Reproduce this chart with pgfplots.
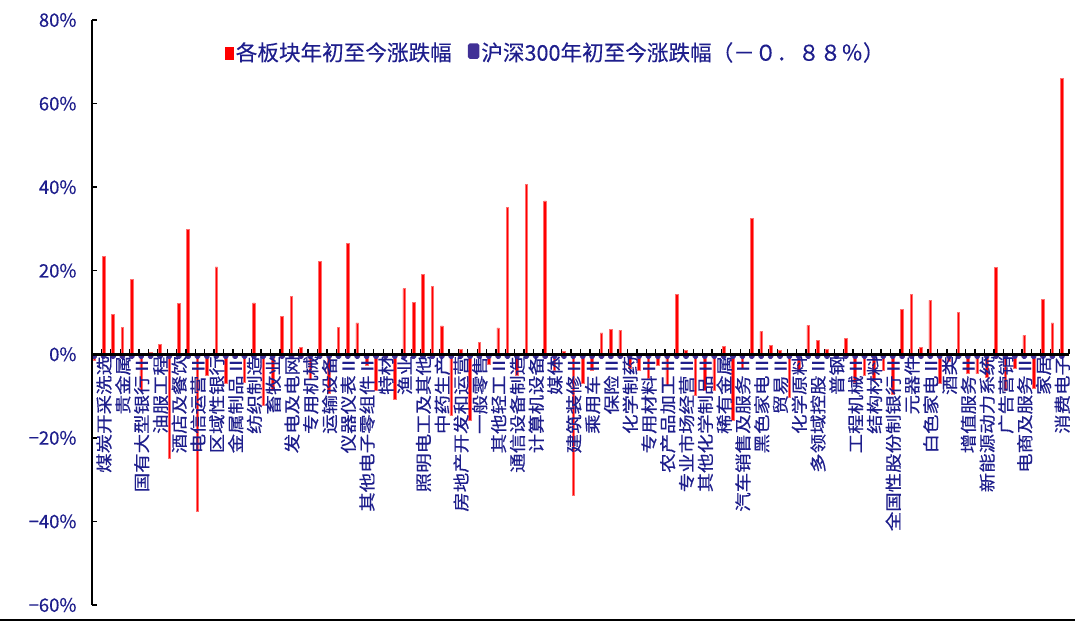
\documentclass[border=0pt]{standalone}
\usepackage{pgfplots}
\pgfplotsset{compat=1.18}
\usepackage{pgfplotstable}
\usepackage{fontspec}
\setmainfont{DejaVu Sans}
\newfontfamily\cjk[FakeBold=0.3]{Noto Sans CJK SC}
\newfontfamily\cjklab[FakeStretch=1.18,FakeBold=0.4]{Noto Sans CJK SC}
\definecolor{navytxt}{RGB}{30,30,140}
\definecolor{hsnavy}{RGB}{64,48,150}
\definecolor{barred}{RGB}{255,0,0}
\definecolor{baredge}{RGB}{255,110,110}

\pgfplotstableread{
idx val hs
0 -1.5 -0.88
1 23.4 -0.88
2 9.5 -0.88
3 6.5 -0.88
4 17.9 -0.88
5 -8.6 -0.88
6 0.4 -0.88
7 2.3 -0.88
8 -25.0 -0.88
9 12.1 -0.88
10 29.9 -0.88
11 -37.5 -0.88
12 -5.0 -0.88
13 20.9 -0.88
14 -7.0 -0.88
15 -0.5 -0.88
16 -6.6 -0.88
17 12.3 -0.88
18 -12.2 -0.88
19 -8.6 -0.88
20 9.1 -0.88
21 13.9 -0.88
22 1.6 -0.88
23 -6.1 -0.88
24 22.3 -0.88
25 -9.4 -0.88
26 6.4 -0.88
27 26.6 -0.88
28 7.5 -0.88
29 -2.6 -0.88
30 -8.6 -0.88
31 -0.5 -0.88
32 -10.8 -0.88
33 15.7 -0.88
34 12.5 -0.88
35 19.1 -0.88
36 16.3 -0.88
37 6.8 -0.88
38 -14.6 -0.88
39 1.2 -0.88
40 -15.8 -0.88
41 2.8 -0.88
42 -2.5 -0.88
43 6.3 -0.88
44 35.1 -0.88
45 -5.0 -0.88
46 40.6 -0.88
47 -0.5 -0.88
48 36.7 -0.88
49 -3.8 -0.88
50 0.6 -0.88
51 -33.7 -0.88
52 -7.0 -0.88
53 -3.8 -0.88
54 5.1 -0.88
55 5.9 -0.88
56 5.7 -0.88
57 -3.4 -0.88
58 -3.8 -0.88
59 -5.8 -0.88
60 -2.6 -0.88
61 -7.4 -0.88
62 14.3 -0.88
63 1.0 -0.88
64 -9.8 -0.88
65 -8.6 -0.88
66 -8.6 -0.88
67 1.9 -0.88
68 -15.8 -0.88
69 -3.4 -0.88
70 32.5 -0.88
71 5.5 -0.88
72 2.2 -0.88
73 1.0 -0.88
74 -10.2 -0.88
75 -3.8 -0.88
76 6.9 -0.88
77 3.3 -0.88
78 1.1 -0.88
79 -0.5 -0.88
80 3.7 -0.88
81 -6.6 -0.88
82 -5.0 -0.88
83 -6.2 -0.88
84 -3.8 -0.88
85 -9.5 -0.88
86 10.7 -0.88
87 14.4 -0.88
88 1.6 -0.88
89 12.9 -0.88
90 -7.0 -0.88
91 -1.8 -0.88
92 10.0 -0.88
93 -4.6 -0.88
94 -4.6 -0.88
95 -5.4 -0.88
96 20.7 -0.88
97 -8.6 -0.88
98 -3.4 -0.88
99 4.5 -0.88
100 -8.2 -0.88
101 13.1 -0.88
102 7.5 -0.88
103 66.0 -0.88
}\sectors

\begin{document}
\begin{tikzpicture}
\useasboundingbox (0,0) rectangle (1075bp,624bp);
\begin{axis}[
  scale only axis, width=977bp, height=585bp,
  at={(92bp,19bp)}, anchor=south west,
  xmin=-0.5, xmax=103.5, ymin=-60, ymax=80,
  axis x line=middle, axis y line=left,
  axis line style={-},
  x axis line style={line width=2.6bp, black},
  y axis line style={line width=2.4bp, black},
  hide obscured x ticks=false, hide obscured y ticks=false,
  axis on top,
  tick align=inside,
  major tick length=5bp,
  tick style={line width=1.3bp, black},
  ytick={-60,-40,-20,0,20,40,60,80},
  yticklabels={−60\%,−40\%,−20\%,0\%,20\%,40\%,60\%,80\%},
  yticklabel style={font=\cjk\fontsize{18.5bp}{20bp}\selectfont, text=navytxt, xshift=-12bp},
  xtick={-0.5,0.5,...,103.5},
  xticklabel=\empty,
  extra x ticks={1,3,...,103},
  extra x tick labels={煤炭开采洗选,贵金属,国有大型银行Ⅱ,油服工程,酒店及餐饮,电信运营Ⅱ,区域性银行,金属制品Ⅱ,纺织制造,畜牧业,发电及电网,专用机械,运输设备,仪器仪表Ⅱ,其他电子零组件Ⅱ,特材,渔业,照明电工及其他,中药生产,房地产开发和运营,一般零售,其他轻工Ⅱ,通信设备制造,计算机设备,媒体,建筑装修Ⅱ,乘用车Ⅱ,保险Ⅱ,化学制药,专用材料Ⅱ,农产品加工Ⅱ,专业市场经营Ⅱ,其他化学制品Ⅱ,稀有金属,汽车销售及服务Ⅱ,黑色家电Ⅱ,贸易Ⅱ,化学原料,多领域控股Ⅱ,普钢,工程机械Ⅱ,结构材料,全国性股份制银行Ⅱ,元器件,白色家电Ⅱ,酒类,增值服务Ⅱ,新能源动力系统,广告营销,电商及服务Ⅱ,家居,消费电子},
  extra x tick style={major tick length=0pt,
    xticklabel style={rotate=90, anchor=east, inner sep=0pt, xshift=-1.5bp, yshift=2bp,
      font=\cjklab\fontsize{16.5bp}{18bp}\selectfont, text=navytxt}},
  legend style={draw=none, fill=none, inner sep=0pt,
    at={(axis description cs:0.136,0.945)}, anchor=west,
    font=\cjk\fontsize{21.6bp}{24bp}\selectfont, text=navytxt,
    /tikz/every even column/.append style={column sep=14bp}},
  legend columns=2,
  legend cell align=left,
]
\addplot[ybar, bar width=2.6bp, bar shift=-2.5bp, fill=barred, draw=baredge, line width=0.7bp,
  legend image code/.code={\fill[barred] (0bp,-7bp) rectangle (8bp,5bp);}]
  table[x=idx, y=val] {\sectors};
\addlegendentry{各板块年初至今涨跌幅}
\addplot[ybar, bar width=4bp, bar shift=-2.5bp, fill=hsnavy, draw=hsnavy, line width=1.6bp, rounded corners=1.2bp,
  legend image code/.code={\fill[hsnavy, rounded corners=1.5bp] (0bp,-6bp) rectangle (10bp,8bp);}]
  table[x=idx, y=hs] {\sectors};
\addlegendentry{沪深300年初至今涨跌幅（－０．８８％）}
\end{axis}
\draw[line width=2bp, black] (0,3.5bp) -- (1075bp,3.5bp);
\end{tikzpicture}
\end{document}
